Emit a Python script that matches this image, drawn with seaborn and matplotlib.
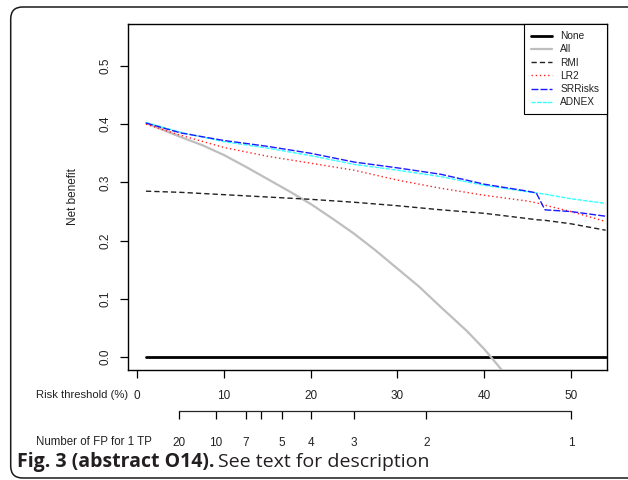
import pandas as pd
import matplotlib.pyplot as plt
import seaborn as sns
from matplotlib.patches import FancyBboxPatch
from matplotlib.transforms import IdentityTransform

# ---------------------------------------------------------
# 1. Values (risk threshold in %)
# ---------------------------------------------------------
models = ["None", "All", "RMI", "LR2", "SRRisks", "ADNEX"]

none_pt = [1, 54]
none_nb = [0.0, 0.0]

all_pt = [1, 5, 7.5, 10, 12.5, 15, 17.5, 20, 22.5, 25, 27.5, 30, 32.5, 35, 38, 40, 42.2]
all_nb = [0.402, 0.378, 0.364, 0.347, 0.327, 0.306, 0.285, 0.263, 0.238, 0.212,
          0.183, 0.152, 0.121, 0.086, 0.045, 0.014, -0.025]

model_pt = [1, 5, 10, 15, 20, 25, 30, 35, 40, 45, 46, 47, 50, 54]
rmi_nb = [0.285, 0.283, 0.279, 0.275, 0.271, 0.266, 0.260, 0.253, 0.247, 0.238,
          0.236, 0.235, 0.229, 0.218]
lr2_nb = [0.400, 0.381, 0.360, 0.345, 0.333, 0.321, 0.304, 0.290, 0.278, 0.268,
          0.265, 0.261, 0.250, 0.233]
srrisks_nb = [0.402, 0.385, 0.372, 0.362, 0.350, 0.335, 0.325, 0.314, 0.297, 0.285,
              0.282, 0.253, 0.250, 0.242]
adnex_nb = [0.403, 0.386, 0.370, 0.359, 0.346, 0.331, 0.321, 0.310, 0.295, 0.284,
            0.282, 0.280, 0.272, 0.264]

risk_ticks = [0, 10, 20, 30, 40, 50]
risk_labels = ["0", "10", "20", "30", "40", "50"]
fp_ticks = [20, 10, 7, 6, 5, 4, 3, 2, 1]
fp_labels = ["20", "10", "7", "", "5", "4", "3", "2", "1"]

curves = pd.concat([
    pd.DataFrame({"threshold": none_pt, "nb": none_nb, "model": "None"}),
    pd.DataFrame({"threshold": all_pt, "nb": all_nb, "model": "All"}),
    pd.DataFrame({"threshold": model_pt, "nb": rmi_nb, "model": "RMI"}),
    pd.DataFrame({"threshold": model_pt, "nb": lr2_nb, "model": "LR2"}),
    pd.DataFrame({"threshold": model_pt, "nb": srrisks_nb, "model": "SRRisks"}),
    pd.DataFrame({"threshold": model_pt, "nb": adnex_nb, "model": "ADNEX"}),
])

# ---------------------------------------------------------
# 2. Line styles (R-like)
# ---------------------------------------------------------
styles = {
    "None": dict(color="black", lw=2.0, ls="-", zorder=3),
    "All": dict(color="#bebebe", lw=1.6, ls="-", zorder=3),
    "RMI": dict(color="#222222", lw=1.0, ls=(0, (3.8, 2.2)), zorder=4),
    "LR2": dict(color="#ff2020", lw=1.0, ls=(0, (1, 2)), zorder=4),
    "SRRisks": dict(color="#1a1aff", lw=1.0, ls=(0, (5, 1.5)), zorder=6),
    "ADNEX": dict(color="#33ffff", lw=1.0, ls=(0, (3, 1)), zorder=5),
}

# ---------------------------------------------------------
# 3. Figure
# ---------------------------------------------------------
sns.set_style("white")
plt.rcParams["font.family"] = ["Liberation Sans", "DejaVu Sans"]

W, H = 628, 480
fig = plt.figure(figsize=(W / 100, H / 100), dpi=100)


def fx(px):
    return px / W


def fy(py):
    return 1 - py / H


ax_left, ax_right, ax_top, ax_bottom = 128, 606.5, 24, 370
ax = fig.add_axes([fx(ax_left), fy(ax_bottom), fx(ax_right - ax_left), (ax_bottom - ax_top) / H])

for m in models:
    sub = curves[curves["model"] == m]
    st = styles[m]
    sns.lineplot(data=sub, x="threshold", y="nb", ax=ax, color=st["color"],
                 linewidth=st["lw"], linestyle=st["ls"], zorder=st["zorder"], label=m)

ax.set_xlim(-1.07, 54.1)
ax.set_ylim(-0.022, 0.572)
ax.set_xlabel("")
ax.set_ylabel("")

for s in ax.spines.values():
    s.set_color("black")
    s.set_linewidth(1.0)

ax.set_yticks([0.0, 0.1, 0.2, 0.3, 0.4, 0.5], labels=["0.0", "0.1", "0.2", "0.3", "0.4", "0.5"])
for lab in ax.get_yticklabels():
    lab.set_rotation(90)
    lab.set_va("center")
ax.set_xticks(risk_ticks, labels=risk_labels)
ax.tick_params(axis="both", direction="out", length=5.8, width=0.9, color="black",
               labelcolor="#222222", labelsize=8.5, left=True, bottom=True,
               labelbottom=True, labelleft=True)
ax.tick_params(axis="x", pad=8.5)
ax.tick_params(axis="y", pad=6)

fig.text(fx(73), fy(197), "Net benefit", rotation=90, ha="center", va="center",
         fontsize=8.5, color="#222222")

leg = ax.legend(loc="upper right", fontsize=7.3, frameon=True, fancybox=False,
                edgecolor="black", framealpha=1, borderaxespad=0, handlelength=2.1,
                handletextpad=0.8, labelspacing=0.32, borderpad=0.7)
leg.get_frame().set_linewidth(0.8)
for t in leg.get_texts():
    t.set_color("#222222")

# ---------------------------------------------------------
# 4. Second axis: number of false positives per true positive
# ---------------------------------------------------------
fp_pos = [100 / (1 + f) for f in fp_ticks]
line_y = 410.7
ax2 = fig.add_axes([fx(ax_left), fy(line_y), fx(ax_right - ax_left), 0.01])
ax2.set_xlim(ax.get_xlim())
ax2.patch.set_alpha(0)
for k in ["top", "left", "right"]:
    ax2.spines[k].set_visible(False)
ax2.spines["bottom"].set_bounds(min(fp_pos), max(fp_pos))
ax2.spines["bottom"].set_linewidth(0.9)
ax2.set_yticks([])
ax2.set_xticks(fp_pos, labels=fp_labels)
ax2.tick_params(axis="x", direction="out", length=5.8, width=0.9, color="black",
                labelcolor="#222222", labelsize=8.5, pad=13, bottom=True)

fig.text(fx(128), fy(395), "Risk threshold (%)", ha="right", va="center",
         fontsize=8.1, color="#222222")
fig.text(fx(152), fy(442), "Number of FP for 1 TP", ha="right", va="center",
         fontsize=8.3, color="#222222")

# ---------------------------------------------------------
# 5. Caption and rounded frame
# ---------------------------------------------------------
cap1 = fig.text(fx(16.7), fy(467), "Fig. 3 (abstract O14).", ha="left", va="baseline",
                fontsize=14, fontweight="bold", family=["Open Sans", "DejaVu Sans"],
                color="#231f20")
fig.canvas.draw()
bb = cap1.get_window_extent()
fig.text(bb.x1 / W + fx(4), fy(467), "See text for description", ha="left",
         va="baseline", fontsize=14, family=["Open Sans", "DejaVu Sans"], color="#231f20")

frame = FancyBboxPatch((10.7, 2), 700, 471, boxstyle="round,pad=0,rounding_size=12",
                       transform=IdentityTransform(), fill=False, ec="#1a1a1a", lw=1.1)
fig.add_artist(frame)

fig.savefig("out.png", dpi=100)
